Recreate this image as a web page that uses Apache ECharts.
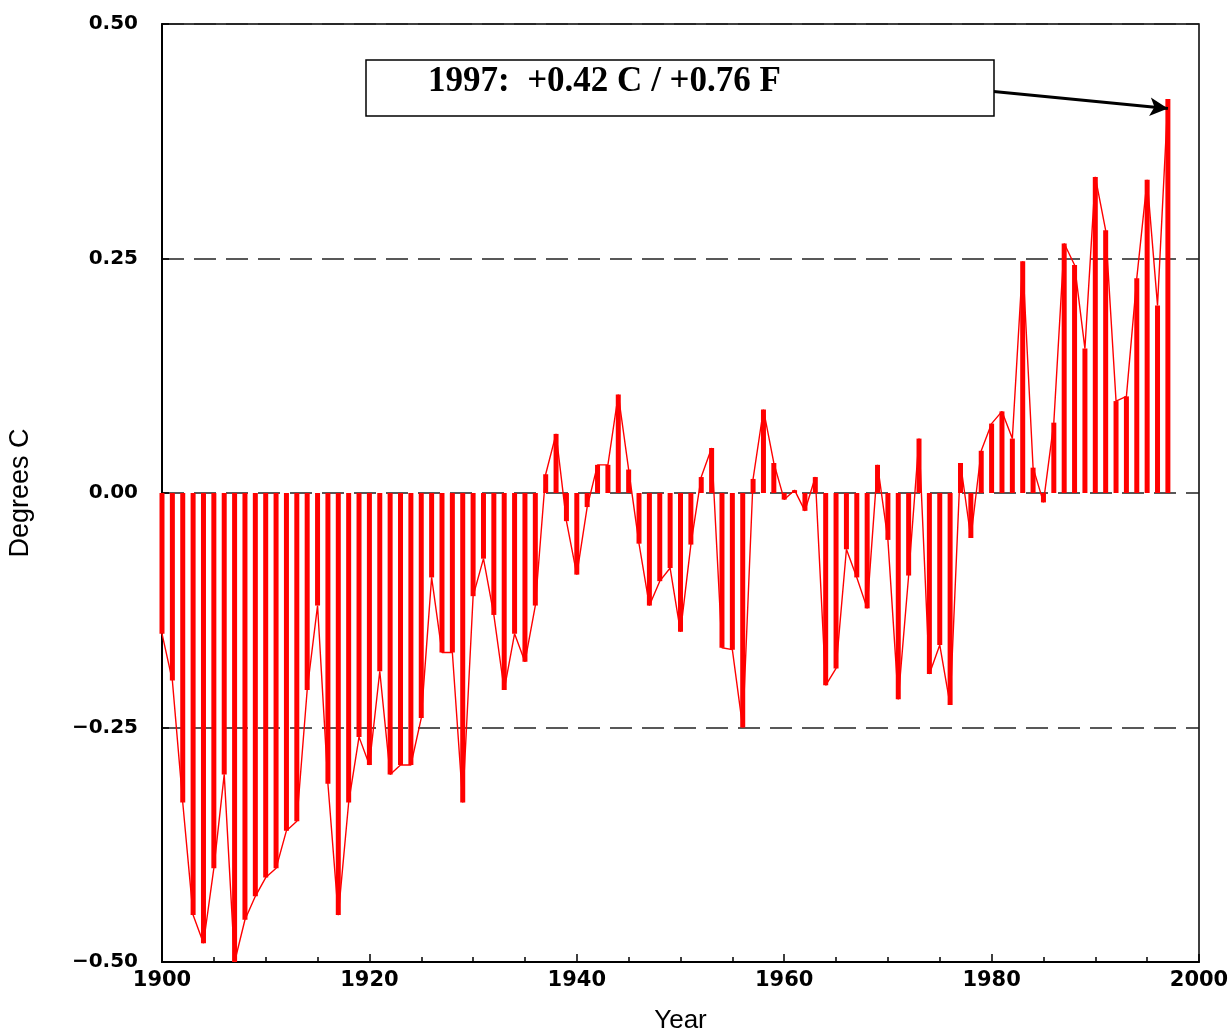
<!DOCTYPE html>
<html>
<head>
<meta charset="utf-8">
<script src="https://cdn.jsdelivr.net/npm/echarts@6/dist/echarts.min.js"></script>
<style>
html,body{margin:0;padding:0;background:#fff;}
#chart{width:1231px;height:1036px;}
</style>
</head>
<body>
<div id="chart"></div>
<script>
// Years 1900..1997
var years = [];
for (var y = 1900; y <= 1997; y++) years.push(y);

// Annual temperature anomaly, degrees C
var anomalies = [
  -0.15, -0.20, -0.33, -0.45, -0.48, -0.40, -0.30, -0.50, -0.455, -0.43,   // 1900-1909
  -0.41, -0.40, -0.36, -0.35, -0.21, -0.12, -0.31, -0.45, -0.33, -0.26,     // 1910-1919
  -0.29, -0.19, -0.30, -0.29, -0.29, -0.24, -0.09, -0.17, -0.17, -0.33,     // 1920-1929
  -0.11, -0.07, -0.13, -0.21, -0.15, -0.18, -0.12, 0.02, 0.063, -0.03,      // 1930-1939
  -0.087, -0.015, 0.03, 0.03, 0.105, 0.025, -0.054, -0.12, -0.094, -0.08,   // 1940-1949
  -0.148, -0.055, 0.017, 0.048, -0.165, -0.167, -0.25, 0.015, 0.089, 0.032, // 1950-1959
  -0.007, 0.003, -0.019, 0.017, -0.205, -0.187, -0.06, -0.09, -0.123, 0.03, // 1960-1969
  -0.05, -0.22, -0.088, 0.058, -0.193, -0.162, -0.226, 0.032, -0.048, 0.045,// 1970-1979
  0.074, 0.087, 0.058, 0.247, 0.027, -0.01, 0.075, 0.266, 0.243, 0.154,     // 1980-1989
  0.337, 0.28, 0.098, 0.103, 0.229, 0.334, 0.20, 0.42                       // 1990-1997
];

var xTickLabels = ['1900', '1920', '1940', '1960', '1980', '2000'];
var yTickLabels = ['\u22120.50', '\u22120.25', '0.00', '0.25', '0.50'];
var yTickValues = [-0.5, -0.25, 0, 0.25, 0.5];

var annotationText = '1997:  +0.42 C / +0.76 F';
var arrowFrom = [1980.2, 0.428];
var arrowTo = [1997, 0.41];

var seriesData = years.map(function (yr, i) { return [yr, anomalies[i]]; });

var chart = echarts.init(document.getElementById('chart'), null, {renderer: 'canvas'});

var option = {
  animation: false,
  backgroundColor: '#fff',
  grid: {
    left: 162, right: 32, top: 24, bottom: 74,
    containLabel: false,
    outerBoundsMode: 'none',
    show: true, borderColor: '#000', borderWidth: 1.5, backgroundColor: 'transparent'
  },
  xAxis: {
    type: 'value', min: 1900, max: 2000, interval: 20,
    name: 'Year', nameLocation: 'middle', nameGap: 46,
    nameTextStyle: {fontFamily: 'Liberation Sans', fontSize: 26, color: '#000'},
    axisLine: {show: true, onZero: false, lineStyle: {color: '#000', width: 2}},
    axisTick: {show: true, inside: true, length: 8, lineStyle: {color: '#000', width: 1.5}},
    minorTick: {show: true, splitNumber: 4, length: 5, lineStyle: {color: '#000', width: 1.5}},
    splitLine: {show: false},
    axisLabel: {
      color: '#000', fontFamily: 'DejaVu Sans', fontWeight: 'bold', fontSize: 21, margin: 8,
      showMinLabel: true, showMaxLabel: true,
      formatter: function (v) { var i = xTickLabels.indexOf(String(Math.round(v))); return i >= 0 ? xTickLabels[i] : ''; }
    }
  },
  yAxis: {
    type: 'value', min: -0.5, max: 0.5, interval: 0.25,
    name: 'Degrees C', nameLocation: 'middle', nameGap: 128, nameRotate: 90,
    nameTextStyle: {fontFamily: 'Liberation Sans', fontSize: 27, color: '#000'},
    axisLine: {show: true, onZero: false, lineStyle: {color: '#000', width: 2}},
    axisTick: {show: true, inside: true, length: 7, lineStyle: {color: '#000', width: 1.5}},
    splitLine: {
      show: true,
      lineStyle: {color: '#222', width: 1.5, type: [22, 10]}
    },
    axisLabel: {
      color: '#000', fontFamily: 'DejaVu Sans', fontWeight: 'bold', fontSize: 20, margin: 24,
      formatter: function (v) {
        for (var i = 0; i < yTickValues.length; i++) {
          if (Math.abs(yTickValues[i] - v) < 1e-6) return yTickLabels[i];
        }
        return '';
      }
    }
  },
  series: [
    {
      type: 'bar',
      data: seriesData,
      barWidth: 5,
      itemStyle: {color: '#ff0000'},
      clip: true,
      silent: true
    },
    {
      type: 'line',
      data: seriesData,
      showSymbol: false,
      symbol: 'none',
      lineStyle: {color: '#ff0000', width: 1.4},
      silent: true,
      z: 3,
      markLine: {
        silent: true,
        animation: false,
        symbol: ['none', 'arrow'],
        symbolSize: [14, 18],
        lineStyle: {color: '#000', width: 3, type: 'solid'},
        label: {show: false},
        data: [[{coord: arrowFrom}, {coord: arrowTo}]]
      }
    }
  ],
  graphic: [
    {
      type: 'rect', z: 100,
      shape: {x: 366, y: 60, width: 628, height: 56},
      style: {fill: '#fff', stroke: '#000', lineWidth: 1.5}
    },
    {
      type: 'text', z: 101,
      x: 428, y: 82,
      style: {
        text: annotationText,
        font: 'bold 35px "Liberation Serif"',
        fill: '#000',
        verticalAlign: 'middle',
        align: 'left'
      }
    }
  ]
};

chart.setOption(option);
</script>
</body>
</html>
